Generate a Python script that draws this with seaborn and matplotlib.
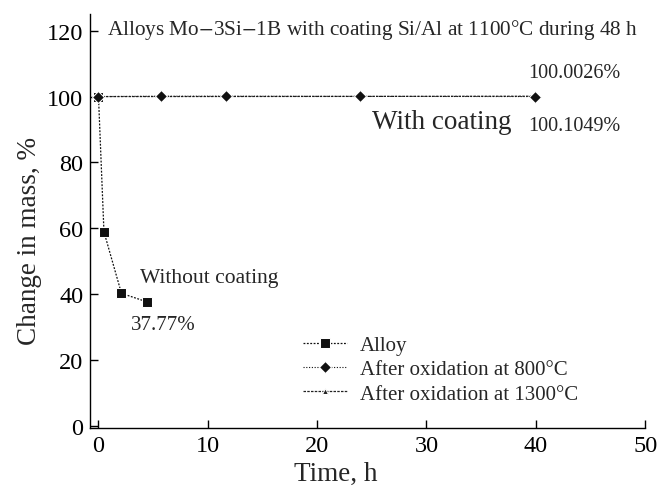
import matplotlib
matplotlib.use("Agg")
import matplotlib.pyplot as plt
import seaborn as sns
import pandas as pd

sns.set_theme(style="ticks")
plt.rcParams['font.family'] = ['Liberation Serif', 'DejaVu Serif']
plt.rcParams['mathtext.fontset'] = 'stix'

alloy_t = [0, 0.5, 2.1, 4.4]
alloy_m = [100, 59, 40.3, 37.77]
ox800_t = [0, 5.7, 11.7, 23.9, 39.9]
ox800_m = [100, 100.1, 100.1, 100.05, 100.0026]
ox1300_t = [0, 23.9, 39.9]
ox1300_m = [100, 100.05, 100.1049]
series_names = ["Alloy", "After oxidation at 800°C", "After oxidation at 1300°C"]
xticks = [0, 10, 20, 30, 40, 50]
yticks = [0, 20, 40, 60, 80, 100, 120]

fig = plt.figure(figsize=(6.59, 4.89), dpi=100)
ax = fig.add_axes([0.137, 0.123, 0.842, 0.846])

df1 = pd.DataFrame({"t": alloy_t, "m": alloy_m})
df2 = pd.DataFrame({"t": ox800_t, "m": ox800_m})
df3 = pd.DataFrame({"t": ox1300_t, "m": ox1300_m})

sns.lineplot(data=df3, x="t", y="m", ax=ax, color="#222222", lw=0.9,
             linestyle=(0, (2, 1)), marker="^", markersize=5, label=series_names[2])
sns.lineplot(data=df1, x="t", y="m", ax=ax, color="#111111", lw=0.9,
             linestyle=(0, (1.5, 1.2)), marker="s", markersize=6.5, label=series_names[0])
sns.lineplot(data=df2, x="t", y="m", ax=ax, color="#111111", lw=0.8,
             linestyle=(0, (1, 1.5)), marker="D", markersize=6.5, label=series_names[1])

ax.set_xlim(-0.75, 50)
ax.set_ylim(-0.5, 125)
ax.set_xticks(xticks)
ax.set_yticks(yticks)
ax.tick_params(direction="in", length=6, width=1, labelsize=17.5, colors="black", pad=5)
for s in ["top", "right"]:
    ax.spines[s].set_visible(False)
for s in ["left", "bottom"]:
    ax.spines[s].set_color("black")
    ax.spines[s].set_linewidth(1)
ax.set_xlabel("Time, h", fontsize=19.5)
ax.set_ylabel("Change in mass, %", fontsize=19.5)
ax.xaxis.set_label_coords(0.443, -0.08)
ax.yaxis.set_label_coords(-0.087, 0.454)

ax.text(0.8, 120.5, "Alloys Mo$-$3Si$-$1B with coating Si/Al at 1100°C during 48 h",
        fontsize=15.3, va="center", ha="left")
ax.text(39.3, 107.3, "100.0026%", fontsize=14.5, va="center", ha="left")
ax.text(25, 92.3, "With coating", fontsize=19.5, va="center", ha="left")
ax.text(39.3, 91.3, "100.1049%", fontsize=14.5, va="center", ha="left")
ax.text(3.8, 45.2, "Without coating", fontsize=15.5, va="center", ha="left")
ax.text(3.0, 30.8, "37.77%", fontsize=15, va="center", ha="left")

h, l = ax.get_legend_handles_labels()
order = [l.index(n) for n in series_names]
leg = ax.legend([h[i] for i in order], [l[i] for i in order], loc="upper left",
                bbox_to_anchor=(0.369, 0.243), frameon=False, fontsize=15,
                handlelength=2.1, handletextpad=0.6, labelspacing=0.22, borderaxespad=0)

fig.savefig("out.png", dpi=100)
